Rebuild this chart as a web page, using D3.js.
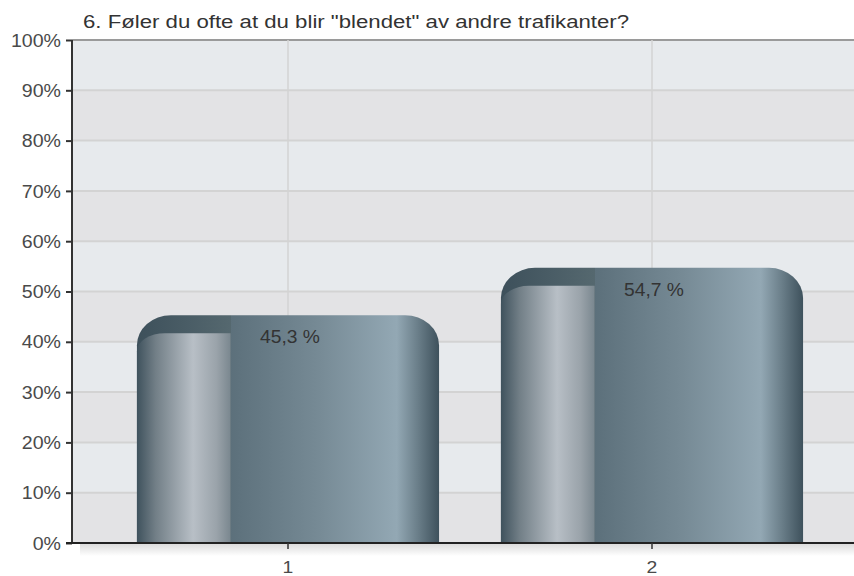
<!DOCTYPE html>
<html>
<head>
    <title>Blendet av andre trafikanter</title>
    <script src="https://d3js.org/d3.v7.min.js"></script>
    <style>
        body { margin: 0; background: #fff; }
        text { font-family: "Liberation Sans", Arial, sans-serif; }
    </style>
</head>
<body>
    <div id="chart"></div>

    <script>
        // Data
        var categories = ['1', '2'];
        var values = [45.3, 54.7];
        var valueLabels = ['45,3 %', '54,7 %'];
        var yTicks = [0, 10, 20, 30, 40, 50, 60, 70, 80, 90, 100];
        var title = '6. Føler du ofte at du blir "blendet" av andre trafikanter?';

        var margin = { top: 40, right: 0, bottom: 33, left: 72 };
        var width = 854 - margin.left - margin.right;
        var height = 576 - margin.top - margin.bottom;

        var svg = d3.select('#chart')
            .append('svg')
            .attr('width', 854)
            .attr('height', 576);

        var defs = svg.append('defs');

        // main bar gradient
        var main = defs.append('linearGradient').attr('id', 'barMain');
        [[0, '#3d505b'], [0.31, '#55686f'], [0.31, '#5c707b'], [0.6, '#768a95'],
         [0.86, '#93a8b4'], [0.93, '#6a7e89'], [1, '#3e515c']].forEach(function(s) {
            main.append('stop').attr('offset', s[0]).attr('stop-color', s[1]);
        });

        // left highlight panel gradient
        var shine = defs.append('linearGradient').attr('id', 'barShine');
        [[0, '#3f525d'], [0.2, '#727f87'], [0.6, '#b8bfc6'], [0.85, '#9aa3aa'], [1, '#7a878f']].forEach(function(s) {
            shine.append('stop').attr('offset', s[0]).attr('stop-color', s[1]);
        });

        // shadow under x axis
        var shadow = defs.append('linearGradient').attr('id', 'axisShadow')
            .attr('x1', 0).attr('y1', 0).attr('x2', 0).attr('y2', 1);
        shadow.append('stop').attr('offset', 0).attr('stop-color', '#dcdcdc');
        shadow.append('stop').attr('offset', 1).attr('stop-color', '#ffffff');

        var g = svg.append('g')
            .attr('transform', 'translate(' + margin.left + ',' + margin.top + ')');

        var y = d3.scaleLinear()
            .domain([0, 100])
            .range([height, 0]);

        var x = d3.scaleBand()
            .domain(categories)
            .range([34, 762])
            .padding(0);

        // striped background
        g.selectAll('.stripe')
            .data(yTicks.slice(0, -1))
            .enter()
            .append('rect')
            .attr('x', 0)
            .attr('y', function(d) { return y(d + 10); })
            .attr('width', width)
            .attr('height', function(d) { return y(d) - y(d + 10); })
            .attr('fill', function(d, i) { return i % 2 === 0 ? '#e3e3e5' : '#e7eaed'; });

        // grid lines
        g.selectAll('.hgrid')
            .data(yTicks.slice(1))
            .enter()
            .append('line')
            .attr('x1', 0)
            .attr('x2', width)
            .attr('y1', function(d) { return y(d); })
            .attr('y2', function(d) { return y(d); })
            .attr('stroke', function(d) { return d === 100 ? '#9a9a9a' : '#d3d3d3'; })
            .attr('stroke-width', 2);

        g.selectAll('.vgrid')
            .data(categories)
            .enter()
            .append('line')
            .attr('x1', function(d) { return x(d) + x.bandwidth() / 2; })
            .attr('x2', function(d) { return x(d) + x.bandwidth() / 2; })
            .attr('y1', 0)
            .attr('y2', height)
            .attr('stroke', '#d3d3d3')
            .attr('stroke-width', 1.5);

        // bars with rounded top corners
        var barW = x.bandwidth() * 0.83;
        var rx = 34, ry = 30;

        function topRounded(x0, y0, w, h, rx, ry) {
            return 'M' + x0 + ',' + (y0 + h) +
                'V' + (y0 + ry) +
                'A' + rx + ',' + ry + ' 0 0 1 ' + (x0 + rx) + ',' + y0 +
                'H' + (x0 + w - rx) +
                'A' + rx + ',' + ry + ' 0 0 1 ' + (x0 + w) + ',' + (y0 + ry) +
                'V' + (y0 + h) + 'Z';
        }

        function leftRounded(x0, y0, w, h, rx, ry) {
            return 'M' + x0 + ',' + (y0 + h) +
                'V' + (y0 + ry) +
                'A' + rx + ',' + ry + ' 0 0 1 ' + (x0 + rx) + ',' + y0 +
                'H' + (x0 + w) +
                'V' + (y0 + h) + 'Z';
        }

        var bars = g.selectAll('.bar')
            .data(values)
            .enter()
            .append('g');

        bars.append('path')
            .attr('fill', 'url(#barMain)')
            .attr('d', function(d, i) {
                var bx = x(categories[i]) + (x.bandwidth() - barW) / 2;
                return topRounded(bx, y(d), barW, height - y(d), rx, ry);
            });

        bars.append('path')
            .attr('fill', 'url(#barShine)')
            .attr('d', function(d, i) {
                var bx = x(categories[i]) + (x.bandwidth() - barW) / 2;
                return leftRounded(bx, y(d) + 18, barW * 0.31, height - y(d) - 18, 28, 18);
            });

        bars.append('text')
            .attr('transform', function(d, i) {
                return 'translate(' + (x(categories[i]) + x.bandwidth() / 2 + 2) + ',' + (y(d) + 28) + ') scale(1.1,1)';
            })
            .attr('text-anchor', 'middle')
            .attr('font-size', '17.5px')
            .attr('fill', '#333')
            .text(function(d, i) { return valueLabels[i]; });

        // shadow under the x axis
        g.append('rect')
            .attr('x', 8)
            .attr('y', height + 1)
            .attr('width', width - 8)
            .attr('height', 12)
            .attr('fill', 'url(#axisShadow)');

        // y axis
        var yAxis = g.append('g')
            .call(d3.axisLeft(y).tickValues(yTicks).tickSize(6).tickFormat(function(d) { return d + '%'; }));
        yAxis.select('.domain').attr('stroke', '#333').attr('stroke-width', 2).attr('d', 'M0,0V' + height);
        yAxis.selectAll('.tick line').attr('stroke', '#333').attr('stroke-width', 2);
        yAxis.selectAll('.tick text')
            .attr('font-size', '17.5px')
            .attr('fill', '#4a4a4a')
            .attr('x', 0)
            .attr('dy', '0.35em')
            .attr('transform', 'translate(-11,0) scale(1.12,1)');

        // x axis
        var xAxis = g.append('g')
            .attr('transform', 'translate(0,' + height + ')')
            .call(d3.axisBottom(x).tickSize(6));
        xAxis.select('.domain').attr('stroke', '#222').attr('stroke-width', 2).attr('d', 'M-6,0H' + width);
        xAxis.selectAll('.tick line').attr('stroke', '#333').attr('stroke-width', 1.5);
        xAxis.selectAll('.tick text')
            .attr('font-size', '17px')
            .attr('fill', '#4a4a4a')
            .attr('y', 0)
            .attr('dy', 0)
            .attr('transform', 'translate(0,30) scale(1.14,1)');

        // title
        svg.append('text')
            .attr('transform', 'translate(83,28) scale(1.2,1)')
            .attr('font-size', '18.5px')
            .attr('fill', '#333')
            .text(title);
    </script>
</body>
</html>
